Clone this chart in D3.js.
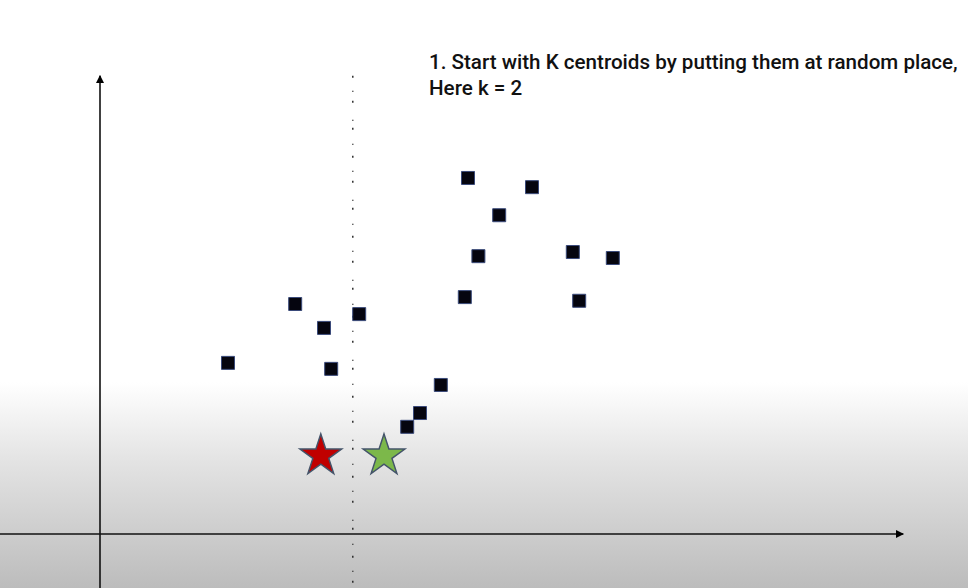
<!DOCTYPE html>
<html><head><meta charset="utf-8">
<script src="https://cdn.jsdelivr.net/npm/d3@7"></script>
<style>html,body{margin:0;padding:0;background:#fff;}svg{display:block;}</style>
</head><body>
<script>
// data points (abstract units)
const pointX = [2.44, 2.80, 1.60, 2.89, 3.24, 4.26, 4.00, 3.84, 4.60, 5.40, 4.99, 4.73, 5.91, 6.41, 4.56, 5.99];
const pointY = [5.00, 4.48, 3.72, 3.59, 4.78, 3.24, 2.63, 2.33, 7.74, 7.54, 6.93, 6.04, 6.13, 6.00, 5.15, 5.07];
const centroidNames = ["K1", "K2"];
const centroidX = [2.76, 3.55];
const centroidY = [1.70, 1.70];
const centroidColors = ["#c00000", "#7cb84a"];
const dividerX = [3.16];
const titleLines = ["1. Start with K centroids by putting them at random place,", "Here k = 2"];

const W = 968, H = 588;
const svg = d3.select("body").append("svg").attr("width", W).attr("height", H);
const defs = svg.append("defs");
const grad = defs.append("linearGradient").attr("id","bg").attr("x1",0).attr("y1",0).attr("x2",0).attr("y2",1);
grad.append("stop").attr("offset","0%").attr("stop-color","#ffffff");
grad.append("stop").attr("offset","65%").attr("stop-color","#ffffff");
grad.append("stop").attr("offset","78%").attr("stop-color","#e4e4e4");
grad.append("stop").attr("offset","100%").attr("stop-color","#bcbcbc");
svg.append("rect").attr("width",W).attr("height",H).attr("fill","url(#bg)");

const x = d3.scaleLinear().domain([0, 10]).range([100, 900]);
const y = d3.scaleLinear().domain([0, 10]).range([534, 74]);

// arrow markers
defs.append("marker").attr("id","arr").attr("viewBox","0 0 10 10").attr("refX",9).attr("refY",5)
  .attr("markerWidth",5).attr("markerHeight",5).attr("orient","auto-start-reverse").attr("markerUnits","strokeWidth")
  .append("path").attr("d","M0,0L10,5L0,10z").attr("fill","#000");

// x axis
svg.append("line").attr("x1",0).attr("x2",x(10.04)).attr("y1",y(0)).attr("y2",y(0))
  .attr("stroke","#111").attr("stroke-width",1.6).attr("marker-end","url(#arr)");
// y axis
svg.append("line").attr("x1",x(0)).attr("x2",x(0)).attr("y1",H).attr("y2",y(9.96))
  .attr("stroke","#111").attr("stroke-width",1.6).attr("marker-end","url(#arr)");

// dotted divider
svg.selectAll("line.div").data(dividerX).join("line").attr("class","div")
  .attr("x1",d=>x(d)).attr("x2",d=>x(d)).attr("y1",y(9.96)).attr("y2",H)
  .attr("stroke","#222").attr("stroke-width",1.4)
  .attr("stroke-dasharray","2,13,1,9,2,17,1,7,2,14,1,11");

// points
const pts = pointX.map((v,i)=>({x:v,y:pointY[i]}));
svg.selectAll("path.pt").data(pts).join("path").attr("class","pt")
  .attr("transform",d=>`translate(${x(d.x)},${y(d.y)})`)
  .attr("d", d3.symbol(d3.symbolSquare, 169)())
  .attr("fill","#05050f").attr("stroke","#3a4a7a").attr("stroke-width",1);

// centroids
const cents = centroidX.map((v,i)=>({name:centroidNames[i],x:v,y:centroidY[i],c:centroidColors[i]}));
svg.selectAll("path.cent").data(cents).join("path").attr("class","cent")
  .attr("transform",d=>`translate(${x(d.x)},${y(d.y)})`)
  .attr("d", d3.symbol(d3.symbolStar, 540)())
  .attr("fill",d=>d.c).attr("stroke","#44546a").attr("stroke-width",1.5).attr("stroke-linejoin","miter");

// title
svg.append("text").attr("x",429).attr("y",69)
  .attr("font-family","Roboto, 'DejaVu Sans', sans-serif").attr("font-size",20.6).attr("font-weight",500).attr("fill","#111")
  .selectAll("tspan").data(titleLines).join("tspan").attr("x",429).attr("dy",(d,i)=>i?26:0).text(d=>d);
</script>
</body></html>
